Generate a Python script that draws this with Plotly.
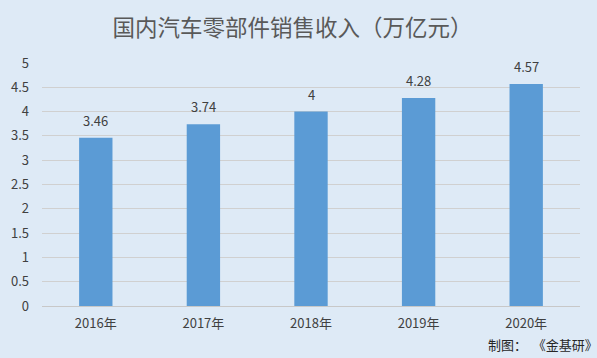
import plotly.graph_objects as go

categories = ["2016年", "2017年", "2018年", "2019年", "2020年"]
values = [3.46, 3.74, 4, 4.28, 4.57]
value_labels = ["3.46", "3.74", "4", "4.28", "4.57"]
y_ticks = [0, 0.5, 1, 1.5, 2, 2.5, 3, 3.5, 4, 4.5, 5]
y_tick_labels = ["0", "0.5", "1", "1.5", "2", "2.5", "3", "3.5", "4", "4.5", "5"]

font_family = "Noto Sans CJK SC, Noto Sans, sans-serif"
bg = "#DEEAF6"

fig = go.Figure(go.Bar(
    x=categories, y=values,
    marker=dict(color="#5B9BD5", line=dict(width=0)),
    width=0.31, hoverinfo="x+y",
))

annotations = [
    dict(x=c, y=v, text=t, xref="x", yref="y", showarrow=False,
         yanchor="bottom", yshift=6,
         font=dict(size=13, color="#404040", family=font_family))
    for c, v, t in zip(categories, values, value_labels)
]
annotations.append(dict(text="制图：&nbsp;&nbsp;《金基研》", xref="paper", yref="paper",
                        x=1.037, y=-0.16, xanchor="right", yanchor="middle", showarrow=False,
                        font=dict(size=13, color="#262626", family=font_family)))

fig.update_layout(
    width=597, height=358,
    paper_bgcolor=bg, plot_bgcolor=bg,
    margin=dict(l=42, r=17, t=63, b=52, autoexpand=False),
    title=dict(text="国内汽车零部件销售收入（万亿元）", x=0.49, xanchor="center",
               xref="container", y=0.922, yanchor="middle",
               font=dict(size=22.5, color="#595959", family=font_family)),
    showlegend=False,
    xaxis=dict(showgrid=False, showline=False, ticks="", automargin=False,
               ticklabelstandoff=8,
               tickfont=dict(size=13, color="#404040", family=font_family)),
    yaxis=dict(range=[0, 5], tickvals=y_ticks, ticktext=y_tick_labels, automargin=False,
               showgrid=True, gridcolor="#D0D0D0", gridwidth=1,
               zeroline=True, zerolinecolor="#C8C8C8", zerolinewidth=1,
               showline=False, ticks="", ticklabelstandoff=12,
               tickfont=dict(size=13, color="#404040", family=font_family)),
    annotations=annotations,
)

fig.write_html("out.html", config={"displayModeBar": False},
               post_script="document.body.style.margin='0';")
